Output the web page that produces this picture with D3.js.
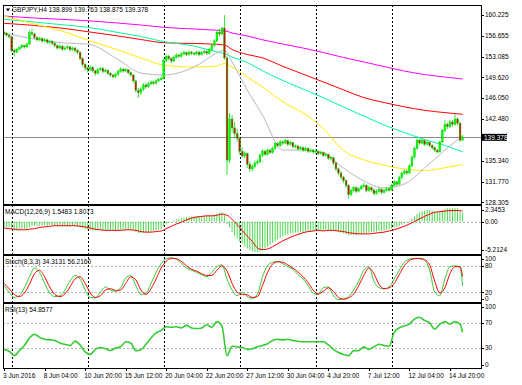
<!DOCTYPE html>
<html>
<head>
<meta charset="utf-8">
<script src="https://cdn.jsdelivr.net/npm/d3@7"></script>
<style>
  body { margin: 0; background: #fff; }
  svg text { font-family: "Liberation Sans", Arial, sans-serif; font-size: 6.5px; fill: #000; }
</style>
</head>
<body>
<script>
// ---- data (GBPJPY H4, one value per bar unless noted) ----
const firstOpen = 157.3;
const closes = [
  157.1,156.8,156.5,154.2,153.9,154.4,154.7,155.0,154.8,155.3,
  157.2,157.0,156.4,156.0,156.2,155.8,156.0,155.6,155.7,155.4,
  155.0,154.6,154.9,154.4,154.6,154.8,154.3,154.6,154.2,153.9,
  152.8,151.8,151.2,150.9,151.3,150.7,150.3,150.9,151.1,150.6,
  150.8,150.3,150.0,149.7,150.1,150.6,151.0,150.7,150.9,150.4,
  150.0,149.0,147.4,147.0,147.6,148.3,148.0,148.5,148.8,148.6,
  149.0,149.2,149.4,152.5,153.2,152.8,152.4,153.0,153.4,153.2,
  153.6,153.8,153.5,153.9,153.7,153.6,153.9,153.5,153.8,154.0,
  153.7,154.3,155.0,155.8,157.3,157.0,158.0,152.9,135.5,142.5,
  141.0,140.0,139.2,137.0,136.2,136.6,134.8,134.0,134.4,135.0,
  135.2,136.3,137.0,136.5,137.2,136.8,137.5,138.3,138.0,138.6,
  138.4,138.8,138.2,138.5,137.8,137.9,137.4,137.6,137.2,137.5,
  137.0,137.2,136.9,137.0,136.6,136.8,136.3,136.5,135.8,135.9,
  135.0,134.0,133.3,132.6,132.0,131.2,129.6,130.3,130.8,130.2,
  130.6,131.0,131.2,130.3,130.8,130.4,129.8,130.2,130.5,130.0,
  130.3,130.6,130.4,131.2,131.8,131.4,132.5,133.2,133.6,133.3,
  134.5,136.0,137.5,138.9,138.4,138.8,138.2,138.5,138.0,137.6,
  137.2,136.9,138.6,140.5,141.6,141.2,142.0,141.6,142.5,141.8,
  138.899,139.378
];
const highs = [
  157.6,157.3,157.0,156.6,154.5,154.6,154.9,155.3,155.2,155.5,
  157.6,157.8,157.2,156.6,156.5,156.4,156.3,156.2,156.0,155.9,
  155.6,155.2,155.2,155.1,154.9,155.1,155.0,154.8,154.8,154.4,
  154.0,153.0,152.0,151.4,151.6,151.5,150.9,151.1,151.4,151.3,
  151.1,151.0,150.5,150.2,150.4,150.9,151.3,151.2,151.2,151.0,
  150.6,150.2,149.2,147.8,147.9,148.6,148.7,148.8,149.1,149.0,
  149.3,149.5,149.7,152.8,153.5,153.4,153.0,153.3,153.7,153.6,
  153.9,154.2,154.0,154.2,154.1,153.9,154.2,154.1,154.1,154.3,
  154.2,154.6,155.3,156.1,157.6,157.8,158.2,160.2,153.2,143.5,
  143.2,142.0,140.8,139.4,137.7,137.0,136.8,135.2,134.8,135.4,
  135.6,136.6,137.4,137.3,137.5,137.4,137.8,138.6,138.6,138.9,
  138.9,139.1,139.0,138.8,138.6,138.2,138.1,137.9,137.8,137.8,
  137.7,137.5,137.4,137.3,137.2,137.1,137.0,136.8,136.6,136.2,
  136.0,135.2,134.2,133.6,132.8,132.2,131.4,130.6,131.1,131.0,
  130.9,131.3,131.6,131.4,131.1,131.0,130.6,130.5,130.8,130.7,
  130.6,130.9,130.9,131.5,132.1,132.0,132.8,133.5,133.9,133.8,
  134.8,136.3,137.8,139.2,139.1,139.1,139.0,138.8,138.7,138.2,
  137.8,137.4,138.8,140.8,142.3,141.9,142.4,142.3,143.3,142.8,
  142.0,139.763
];
const lows = [
  156.8,156.5,156.2,153.9,153.1,153.7,154.2,154.5,154.5,154.6,
  155.1,156.7,156.1,155.7,155.8,155.5,155.6,155.3,155.3,155.1,
  154.7,154.3,154.4,154.1,154.2,154.4,154.0,154.1,153.9,153.5,
  152.5,151.4,150.8,150.4,150.6,150.4,149.9,150.1,150.7,150.3,
  150.4,150.0,149.7,149.4,149.5,149.9,150.4,150.4,150.5,150.1,
  149.7,148.7,147.0,146.1,146.6,147.3,147.7,147.8,148.3,148.3,
  148.4,148.8,149.0,149.3,152.2,152.5,152.0,152.2,152.8,152.9,
  153.0,153.4,153.2,153.3,153.4,153.3,153.4,153.2,153.3,153.6,
  153.4,153.5,154.1,154.8,155.6,156.6,156.8,152.6,133.0,135.0,
  140.2,139.2,138.6,136.4,135.9,135.8,134.2,133.5,133.6,134.1,
  134.7,135.0,136.0,136.2,136.3,136.5,136.6,137.3,137.7,137.8,
  138.1,138.2,137.9,138.0,137.5,137.5,137.1,137.2,136.9,137.0,
  136.7,136.8,136.6,136.6,136.3,136.4,136.0,136.1,135.5,135.4,
  134.6,133.6,132.9,132.2,131.6,130.8,128.9,129.4,130.0,129.9,
  130.0,130.4,130.8,130.0,130.1,130.1,129.5,129.6,130.0,129.7,
  129.8,130.1,130.1,130.3,131.0,131.1,131.3,132.3,133.0,133.0,
  133.2,134.3,135.8,137.3,138.1,138.2,137.9,138.0,137.7,137.3,
  136.9,136.6,136.8,138.4,140.3,140.8,141.0,141.2,141.4,141.4,
  138.6,138.875
];

// moving averages, read at these bars
const maBars = [0,12,24,33,45,54,63,75,84,87,90,96,102,110,118,126,134,142,150,158,166,174,181];
const maMagenta = [160.05,159.71,159.46,159.25,158.86,158.52,158.13,157.84,157.63,157.55,157.16,156.65,156.0,155.28,154.60,153.83,152.98,152.22,151.45,150.68,150.08,149.66,149.32];
const maRed     = [158.81,158.44,157.92,157.38,156.65,156.05,155.50,155.37,155.23,155.11,154.35,153.49,152.93,151.48,150.15,148.82,147.46,146.15,145.31,144.58,143.98,143.59,143.30];
const maMint    = [159.49,159.03,158.52,158.13,157.24,156.56,155.68,154.94,153.92,153.66,153.07,152.13,150.73,149.06,147.61,146.13,144.55,143.01,141.48,140.20,139.01,137.99,136.93];
const maYellow  = [160.05,158.69,157.33,155.96,154.26,152.90,151.70,151.36,151.53,151.96,151.36,149.66,147.95,145.45,143.52,140.88,137.12,135.55,134.63,133.98,133.72,134.20,134.78];
const maGray    = [157.16,156.13,155.45,155.28,152.64,150.34,150.00,151.36,153.75,154.26,152.22,147.44,143.18,137.22,137.22,136.71,134.15,131.94,130.74,131.42,134.15,137.22,139.60];

// MACD(12,26,9) main, one value per bar
const macdMain = [
  -0.9,-0.9,-1.0,-1.3,-1.5,-1.5,-1.4,-1.3,-1.3,-1.2,
  -0.9,-0.7,-0.7,-0.7,-0.7,-0.7,-0.6,-0.7,-0.6,-0.6,
  -0.7,-0.7,-0.7,-0.8,-0.7,-0.7,-0.7,-0.7,-0.8,-0.8,
  -0.9,-1.1,-1.3,-1.4,-1.4,-1.5,-1.5,-1.5,-1.4,-1.5,
  -1.5,-1.5,-1.6,-1.6,-1.6,-1.5,-1.4,-1.4,-1.3,-1.3,
  -1.4,-1.5,-1.8,-2.0,-2.0,-1.9,-1.9,-1.8,-1.7,-1.6,
  -1.5,-1.4,-1.3,-0.8,-0.4,-0.2,0.0,0.2,0.4,0.5,
  0.6,0.7,0.8,0.9,0.9,0.9,1.0,1.0,1.0,1.0,
  1.0,1.0,1.1,1.2,1.4,1.5,1.6,1.2,-0.4,-1.0,
  -1.8,-2.4,-2.9,-3.4,-3.8,-4.2,-4.6,-4.9,-5.1,-5.2,
  -5.2,-5.1,-4.9,-4.6,-4.3,-4.0,-3.6,-3.3,-3.0,-2.8,
  -2.5,-2.3,-2.2,-2.0,-2.0,-1.9,-1.9,-1.8,-1.8,-1.7,
  -1.7,-1.6,-1.6,-1.5,-1.5,-1.5,-1.5,-1.5,-1.5,-1.5,
  -1.6,-1.7,-1.8,-1.9,-2.0,-2.1,-2.3,-2.3,-2.3,-2.3,
  -2.2,-2.1,-2.0,-2.0,-1.9,-1.8,-1.8,-1.7,-1.6,-1.6,
  -1.5,-1.4,-1.3,-1.2,-1.0,-0.9,-0.7,-0.5,-0.3,-0.2,
  0.1,0.5,0.9,1.3,1.6,1.8,1.9,2.0,2.0,1.9,
  1.8,1.7,1.8,2.0,2.2,2.3,2.3,2.3,2.35,2.3,
  1.9,1.5483
];

// the lines below are read every second bar (0,2,...,180) plus the last bar
const macdSignal = [
  -1.1,-1.2,-1.3,-1.4,-1.4,-1.3,-1.2,-1.0,-0.9,-0.8,
  -0.7,-0.7,-0.7,-0.7,-0.7,-0.8,-0.9,-1.1,-1.3,-1.4,
  -1.5,-1.5,-1.5,-1.5,-1.4,-1.4,-1.5,-1.7,-1.8,-1.8,
  -1.7,-1.6,-1.2,-0.8,-0.4,-0.1,0.3,0.6,0.8,0.9,
  1.0,1.0,1.1,1.3,1.1,0.4,-0.5,-1.5,-2.5,-3.4,
  -4.5,-4.8,-4.7,-4.3,-3.8,-3.3,-2.9,-2.5,-2.2,-1.9,
  -1.7,-1.6,-1.5,-1.6,-1.5,-1.5,-1.6,-1.7,-1.9,-2.0,
  -2.1,-2.1,-2.1,-2.0,-1.9,-1.8,-1.6,-1.4,-1.1,-0.8,
  -0.4,0.0,0.5,0.9,1.3,1.6,1.7,1.8,1.9,1.9,
  1.9,1.8073
];
const stochMain = [
  35,20,8,12,30,55,75,65,40,18,
  10,12,25,45,58,50,25,8,7,20,
  32,25,22,30,52,58,35,15,18,40,
  65,85,96,98,95,85,75,70,65,60,
  55,65,78,82,50,25,12,20,10,6,
  15,55,80,88,90,85,78,72,60,50,
  35,18,15,30,32,12,3,5,10,25,
  45,70,78,45,30,28,32,50,70,88,
  95,97,96,92,70,20,12,50,78,80,
  75,34.3131
];
const stochSignal = [
  40,28,15,10,18,38,62,70,55,32,
  15,10,16,32,50,55,40,18,8,12,
  25,28,24,25,40,55,48,25,15,28,
  50,75,90,97,96,90,80,72,68,62,
  58,58,70,80,68,40,20,15,14,8,
  10,35,65,84,89,88,82,75,66,55,
  42,25,16,22,30,22,8,4,7,16,
  35,58,75,62,38,28,30,40,60,80,
  92,96,97,94,82,45,18,30,62,78,
  78,56.2160
];
const rsiValues = [
  28,25,18,26,34,46,52,47,44,43,
  42,38,36,34,41,35,24,20,28,31,
  29,26,30,32,40,38,26,27,36,46,
  54,58,64,63,64,62,66,62,61,62,
  67,63,72,65,18,33,32,31,28,29,
  32,34,37,42,44,43,44,42,41,40,
  40,40,40,40,35,28,23,20,18,26,
  26,32,28,32,36,34,33,55,62,65,
  68,76,79,74,70,60,68,72,68,72,
  68,54.8577
];

// 138.910 sits under the current price box, so it is left out
const priceTicks = [160.225,156.655,153.085,149.620,146.050,142.480,135.340,131.770,128.305];
const lastPrice = 139.378;
const separatorBars = [3,33,63,93,123,153];
const timeTickBars = [0,16,32,48,64,80,96,112,128,144,160,176];
const timeTickText = ["3 Jun 2016","8 Jun 04:00","10 Jun 20:00","15 Jun 12:00","20 Jun 04:00","22 Jun 20:00",
  "27 Jun 12:00","30 Jun 04:00","4 Jul 20:00","7 Jul 12:00","12 Jul 04:00","14 Jul 20:00"];

// ---- layout ----
const W = 522, H = 385;
const left = 3, right = 481;
const pMain = {top: 5, bottom: 204};
const pMacd = {top: 206, bottom: 254};
const pStoch = {top: 256, bottom: 302};
const pRsi = {top: 303.5, bottom: 368};

const svg = d3.select('body').append('svg')
  .attr('width', W).attr('height', H);

const x = d3.scaleLinear().domain([0, closes.length - 1]).range([4.1, 462.6]);
const yMain = d3.scaleLinear().domain([128.02, 161.93]).range([pMain.bottom, pMain.top]);
const yMacd = d3.scaleLinear().domain([-5.2124, 2.3453]).range([252, 208]);
const yStoch = d3.scaleLinear().domain([0, 100]).range([301, 257]);
const yRsi = d3.scaleLinear().domain([0, 100]).range([367, 304]);

const evenBars = d3.range(0, closes.length - 1, 2).concat([closes.length - 1]);

// level lines (dashed grey)
const levels = [
  {y: yMacd(0)}, {y: yStoch(80)}, {y: yStoch(20)}, {y: yRsi(70)}, {y: yRsi(30)}
];
svg.selectAll('.level').data(levels).enter().append('line')
  .attr('x1', left).attr('x2', right)
  .attr('y1', d => Math.round(d.y) + 0.5).attr('y2', d => Math.round(d.y) + 0.5)
  .attr('stroke', '#b4b4b4').attr('stroke-dasharray', '2,2')
  .attr('shape-rendering', 'crispEdges');

// current price line
svg.append('line')
  .attr('x1', left).attr('x2', right)
  .attr('y1', Math.round(yMain(lastPrice)) + 0.5).attr('y2', Math.round(yMain(lastPrice)) + 0.5)
  .attr('stroke', '#8c8c8c').attr('shape-rendering', 'crispEdges');

// week separators
svg.selectAll('.sep').data(separatorBars).enter().append('line')
  .attr('x1', d => Math.round(x(d)) + 0.5).attr('x2', d => Math.round(x(d)) + 0.5)
  .attr('y1', pMain.top).attr('y2', pRsi.bottom)
  .attr('stroke', '#000').attr('stroke-dasharray', '2,2')
  .attr('shape-rendering', 'crispEdges');

// moving averages
const maLine = d3.line().x(d => x(d[0])).y(d => yMain(d[1])).curve(d3.curveMonotoneX);
const maSets = [
  {v: maMagenta, c: '#ff00ff'},
  {v: maRed, c: '#ff0000'},
  {v: maMint, c: '#00fa9a'},
  {v: maYellow, c: '#ffee00'},
  {v: maGray, c: '#b8b8b8'}
];
maSets.forEach(m => {
  svg.append('path')
    .datum(maBars.map((b, i) => [b, m.v[i]]))
    .attr('d', maLine)
    .attr('fill', 'none').attr('stroke', m.c).attr('stroke-width', 1);
});

// candles
const bars = closes.map((c, i) => ({
  i, o: i === 0 ? firstOpen : closes[i - 1], h: highs[i], l: lows[i], c
}));
const candle = svg.selectAll('.candle').data(bars).enter().append('g');
candle.append('line')
  .attr('x1', d => x(d.i)).attr('x2', d => x(d.i))
  .attr('y1', d => yMain(d.h)).attr('y2', d => yMain(d.l))
  .attr('stroke', '#00e000').attr('stroke-width', 0.8);
candle.append('rect')
  .attr('x', d => x(d.i) - 0.9)
  .attr('width', 1.8)
  .attr('y', d => yMain(Math.max(d.o, d.c)))
  .attr('height', d => Math.max(0.8, Math.abs(yMain(d.o) - yMain(d.c))))
  .attr('fill', d => d.c >= d.o ? '#00ff00' : '#d01010')
  .attr('stroke', '#00d000').attr('stroke-width', 0.4);

// MACD histogram + signal
svg.selectAll('.hist').data(macdMain).enter().append('line')
  .attr('x1', (d, i) => x(i)).attr('x2', (d, i) => x(i))
  .attr('y1', yMacd(0)).attr('y2', d => yMacd(d))
  .attr('stroke', '#3ad23a').attr('stroke-width', 0.9);
const subLine = (ys) => d3.line().x(d => x(d[0])).y(d => ys(d[1])).curve(d3.curveMonotoneX);
svg.append('path')
  .datum(evenBars.map((b, i) => [b, macdSignal[i]]))
  .attr('d', subLine(yMacd))
  .attr('fill', 'none').attr('stroke', '#ff0000').attr('stroke-width', 1);

// Stochastic
svg.append('path')
  .datum(evenBars.map((b, i) => [b, stochMain[i]]))
  .attr('d', subLine(yStoch))
  .attr('fill', 'none').attr('stroke', '#32cd32').attr('stroke-width', 1);
svg.append('path')
  .datum(evenBars.map((b, i) => [b, stochSignal[i]]))
  .attr('d', subLine(yStoch))
  .attr('fill', 'none').attr('stroke', '#ff0000').attr('stroke-width', 1);

// RSI
svg.append('path')
  .datum(evenBars.map((b, i) => [b, rsiValues[i]]))
  .attr('d', subLine(yRsi))
  .attr('fill', 'none').attr('stroke', '#32cd32').attr('stroke-width', 1.6);

// frame and panel dividers
const frame = svg.append('g').attr('shape-rendering', 'crispEdges');
frame.append('rect')
  .attr('x', left + 0.5).attr('y', pMain.top + 0.5)
  .attr('width', right - left).attr('height', pRsi.bottom - pMain.top)
  .attr('fill', 'none').attr('stroke', '#000');
[205, 255, 302.5].forEach(y => {
  frame.append('line').attr('x1', left).attr('x2', right + 1)
    .attr('y1', y).attr('y2', y).attr('stroke', '#000').attr('stroke-width', 2);
});

// right axis labels
const axisLabels = [];
priceTicks.forEach(p => axisLabels.push({y: yMain(p), t: p.toFixed(3)}));
axisLabels.push({y: 210, t: '2.3453'}, {y: yMacd(0), t: '0.00'}, {y: 250, t: '-5.2124'});
[[100, 258.5], [80, yStoch(80)], [20, yStoch(20)], [0, 299]].forEach(a => axisLabels.push({y: a[1], t: String(a[0])}));
[[100, 306.5], [70, yRsi(70)], [30, yRsi(30)], [0, 365]].forEach(a => axisLabels.push({y: a[1], t: String(a[0])}));

const ax = svg.append('g');
ax.selectAll('line').data(axisLabels).enter().append('line')
  .attr('x1', right).attr('x2', right + 3)
  .attr('y1', d => Math.round(d.y) + 0.5).attr('y2', d => Math.round(d.y) + 0.5)
  .attr('stroke', '#000').attr('shape-rendering', 'crispEdges');
ax.selectAll('text').data(axisLabels).enter().append('text')
  .attr('x', right + 4).attr('y', d => d.y + 2.3)
  .text(d => d.t);

// current price box
const yLast = yMain(lastPrice);
svg.append('rect').attr('x', right + 1).attr('y', yLast - 3.5)
  .attr('width', 25).attr('height', 7).attr('fill', '#000');
svg.append('text').attr('x', right + 3).attr('y', yLast + 2.3)
  .style('fill', '#fff').text(lastPrice.toFixed(3));

// time axis
const tg = svg.append('g');
tg.selectAll('line').data(timeTickBars).enter().append('line')
  .attr('x1', d => Math.round(x(d)) + 0.5).attr('x2', d => Math.round(x(d)) + 0.5)
  .attr('y1', pRsi.bottom).attr('y2', pRsi.bottom + 3)
  .attr('stroke', '#000').attr('shape-rendering', 'crispEdges');
tg.selectAll('text').data(timeTickBars).enter().append('text')
  .attr('x', d => x(d) - 1).attr('y', 377.5)
  .text((d, i) => timeTickText[i]);

// panel titles
svg.append('path').attr('d', 'M6,8.5 L10,8.5 L8,11.5 Z').attr('fill', '#000');
svg.append('text').attr('x', 12).attr('y', 12).text('GBPJPY,H4  138.899 139.763 138.875 139.378');
svg.append('text').attr('x', 5).attr('y', 213.5).text('MACD(12,26,9) 1.5483 1.8073');
svg.append('text').attr('x', 5).attr('y', 264).text('Stoch(8,3,3) 34.3131 56.2160');
svg.append('text').attr('x', 5).attr('y', 311.5).text('RSI(13) 54.8577');
</script>
</body>
</html>
